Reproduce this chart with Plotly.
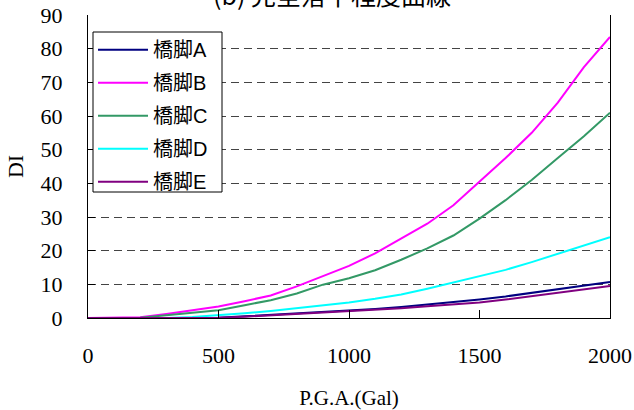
import plotly.graph_objects as go

pga = [0, 100, 200, 300, 400, 500, 600, 700, 800, 900, 1000,
       1100, 1200, 1300, 1400, 1500, 1600, 1700, 1800, 1900, 2000]

pier_a = [0, 0, 0, 0, 0, 0.1, 0.5, 0.9, 1.3, 1.8, 2.3,
          2.7, 3.3, 4.0, 4.7, 5.5, 6.4, 7.5, 8.6, 9.6, 10.7]
pier_b = [0, 0, 0.2, 1.2, 2.2, 3.4, 5.0, 6.7, 9.4, 12.5, 15.5,
          19.2, 23.5, 28.0, 33.5, 40.5, 47.5, 55.0, 64.0, 74.5, 83.5]
pier_c = [0, 0, 0.1, 0.8, 1.5, 2.3, 3.8, 5.3, 7.3, 9.9, 11.8,
          14.2, 17.3, 20.7, 24.5, 29.5, 35.0, 41.0, 47.5, 54.0, 61.0]
pier_d = [0, 0, 0, 0, 0.3, 0.8, 1.4, 2.1, 2.9, 3.8, 4.6,
          5.7, 7.0, 8.7, 10.6, 12.3, 14.3, 16.6, 19.0, 21.5, 24.0]
pier_e = [0, 0, 0, 0, 0, 0.1, 0.4, 0.8, 1.2, 1.6, 2.0,
          2.4, 2.9, 3.5, 4.1, 4.6, 5.5, 6.5, 7.5, 8.4, 9.5]

names = ["橋脚A", "橋脚B", "橋脚C", "橋脚D", "橋脚E"]
series = [pier_a, pier_b, pier_c, pier_d, pier_e]
colors = ["#000080", "#FF00FF", "#339966", "#00FFFF", "#800080"]

x_ticks = [0, 500, 1000, 1500, 2000]
y_ticks = [0, 10, 20, 30, 40, 50, 60, 70, 80, 90]

title_text = "(b) 完全落下程度曲線"

fig = go.Figure()
for name, vals, col in zip(names, series, colors):
    fig.add_trace(go.Scatter(
        x=pga, y=vals, name=name, mode="lines",
        line=dict(color=col, width=2), legendgroup=name,
    ))

serif = "Liberation Serif, Times New Roman, serif"

fig.update_layout(
    width=634, height=410,
    margin=dict(l=88, r=24, t=15, b=92),
    paper_bgcolor="white", plot_bgcolor="white",
    showlegend=True,
    legend=dict(
        x=0.0096, y=0.95, xanchor="left", yanchor="top",
        bgcolor="rgba(0,0,0,0)", bordercolor="black", borderwidth=0,
        font=dict(family="Liberation Sans, Noto Sans CJK JP, sans-serif", size=20, color="black"),
        itemwidth=50, tracegroupgap=4,
    ),
    xaxis=dict(
        range=[0, 2000], tickvals=x_ticks, showgrid=False, zeroline=False,
        showline=True, linecolor="black", linewidth=1, mirror=False,
        ticks="inside", ticklen=8, tickcolor="black", automargin=False,
        tickfont=dict(family=serif, size=22, color="black"),
        ticklabelstandoff=18,
        title=dict(text="P.G.A.(Gal)", font=dict(family=serif, size=21, color="black"), standoff=22),
    ),
    yaxis=dict(
        range=[0, 90], tickvals=y_ticks, showgrid=True, gridcolor="#444444",
        griddash="8px,5px", gridwidth=1, zeroline=False,
        showline=True, linecolor="black", linewidth=1, mirror=True,
        ticks="inside", ticklen=7, tickcolor="black", automargin=False,
        tickfont=dict(family=serif, size=22, color="black"),
        ticklabelstandoff=20,
        title=dict(text="DI", font=dict(family=serif, size=22, color="black"), standoff=10),
    ),
    shapes=[dict(
        type="rect", xref="paper", yref="paper",
        x0=(93 - 88) / 522, x1=(222 - 88) / 522,
        y0=(318 - 192) / 303, y1=(318 - 32) / 303,
        line=dict(color="black", width=1), fillcolor="white", layer="above",
    )],
    annotations=[dict(
        text=title_text, xref="paper", yref="paper", x=0.467, y=1.07,
        xanchor="center", yanchor="middle", showarrow=False,
        font=dict(family="Noto Sans CJK JP, sans-serif", size=25, color="black"),
    )],
)

fig.write_html("out.html")
